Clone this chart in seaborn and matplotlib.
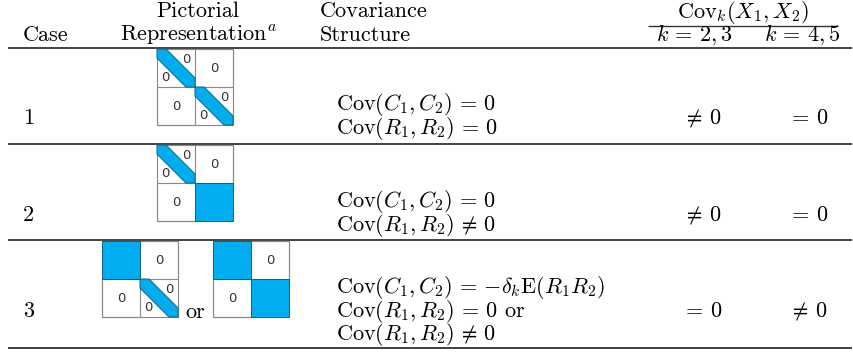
import matplotlib
matplotlib.use("Agg")
import matplotlib.pyplot as plt
from matplotlib.patches import Polygon, Rectangle
import seaborn as sns

# ---------------- data ----------------
cases = ["1", "2", "3"]
# quadrant layouts of the pictorial matrices (row-major: TL, TR, BL, BR)
matrices_case1 = [["diag", "zero", "zero", "diag"]]
matrices_case2 = [["diag", "zero", "zero", "full"]]
matrices_case3 = [["full", "zero", "zero", "diag"], ["full", "zero", "zero", "full"]]
cov_structure_case1 = [r"$\mathrm{Cov}(C_1, C_2) \,=\, 0$", r"$\mathrm{Cov}(R_1, R_2) \,=\, 0$"]
cov_structure_case2 = [r"$\mathrm{Cov}(C_1, C_2) \,=\, 0$", r"$\mathrm{Cov}(R_1, R_2) \,\neq\, 0$"]
cov_structure_case3 = [r"$\mathrm{Cov}(C_1, C_2) \,=\, {-}\delta_k\mathrm{E}(R_1 R_2)$",
                       r"$\mathrm{Cov}(R_1, R_2) \,=\, 0$ or",
                       r"$\mathrm{Cov}(R_1, R_2) \,\neq\, 0$"]
cov_k23 = [r"$\neq\, 0$", r"$\neq\, 0$", r"$=\, 0$"]
cov_k45 = [r"$=\, 0$", r"$=\, 0$", r"$\neq\, 0$"]
header_left = ["Case", "Pictorial", r"Representation$^a$", "Covariance", "Structure"]
header_right = [r"$\mathrm{Cov}_k(X_1, X_2)$", r"$k \,=\, 2, 3$", r"$k \,=\, 4, 5$"]

# ---------------- style ----------------
sns.set_theme(style="white")
plt.rcParams["font.family"] = ["cmr10", "DejaVu Serif"]
plt.rcParams["mathtext.fontset"] = "cm"
plt.rcParams["axes.unicode_minus"] = False
plt.rcParams["axes.formatter.use_mathtext"] = True

FS = 16
BLUE = "#00ADEF"
EDGE_BLUE = "#17607f"
GRAY = "#8a8a8a"
LIGHT = "#d8d8d8"

fig = plt.figure(figsize=(8.54, 3.52), dpi=100)
ax = fig.add_axes([0, 0, 1, 1])
ax.set_xlim(0, 854)
ax.set_ylim(352, 0)
ax.axis("off")

def txt(x, y, s, ha="left", size=FS):
    ax.text(x, y, s, ha=ha, va="baseline", fontsize=size, color="black")

# header
txt(23, 41, header_left[0])
txt(198, 17, header_left[1], ha="center")
txt(198, 41, header_left[2], ha="center")
txt(320, 17, header_left[3])
txt(320, 41, header_left[4])
txt(743, 18, header_right[0], ha="center")
txt(694, 41, header_right[1], ha="center")
txt(802, 41, header_right[2], ha="center")
ax.hlines(26, 648, 838, color="#333333", lw=1.0)

# rules
ax.hlines([48, 144, 240, 348], 8, 852, color="#333333", lw=1.3)

def quadrant(x0, y0, w, kind):
    if kind == "full":
        ax.add_patch(Rectangle((x0, y0), w, w, facecolor=BLUE, edgecolor=EDGE_BLUE, lw=0.7, zorder=3))
    elif kind == "zero":
        ax.add_patch(Rectangle((x0, y0), w, w, facecolor="white", edgecolor=GRAY, lw=0.8, zorder=2))
        ax.text(x0 + w / 2, y0 + w / 2, "0", ha="center", va="center",
                fontsize=9.5, family="DejaVu Sans", color="#333333", zorder=4)
    else:
        ax.add_patch(Rectangle((x0, y0), w, w, facecolor="white", edgecolor=LIGHT, lw=0.8, zorder=1))
        b = 0.24 * w
        pts = [(x0, y0), (x0 + b, y0), (x0 + w, y0 + w - b), (x0 + w, y0 + w),
               (x0 + w - b, y0 + w), (x0, y0 + b)]
        ax.add_patch(Polygon(pts, closed=True, facecolor=BLUE, edgecolor=EDGE_BLUE, lw=0.7, zorder=3))
        ax.text(x0 + 0.78 * w, y0 + 0.27 * w, "0", ha="center", va="center",
                fontsize=9.5, family="DejaVu Sans", color="#333333", zorder=4)
        ax.text(x0 + 0.22 * w, y0 + 0.75 * w, "0", ha="center", va="center",
                fontsize=9.5, family="DejaVu Sans", color="#333333", zorder=4)

def matrix(x0, y0, layout, w=38):
    offs = [(0, 0), (w, 0), (0, w), (w, w)]
    for (dx, dy), kind in zip(offs, layout):
        quadrant(x0 + dx, y0 + dy, w, kind)
    ax.add_patch(Rectangle((x0, y0), 2 * w, 2 * w, facecolor="none", edgecolor=GRAY, lw=0.8, zorder=2.5))

# matrices
matrix(157, 49, matrices_case1[0])
matrix(157, 145, matrices_case2[0])
matrix(102, 241, matrices_case3[0])
matrix(213, 241, matrices_case3[1])
txt(195, 318, "or", ha="center")

# rows
row_case_y = [124, 221, 317]
row_lines_y = [[110, 134], [207, 231], [293, 317, 340]]
structures = [cov_structure_case1, cov_structure_case2, cov_structure_case3]
for i, c in enumerate(cases):
    txt(23, row_case_y[i], c)
    for y, s in zip(row_lines_y[i], structures[i]):
        txt(336, y, s)
    txt(702, row_case_y[i], cov_k23[i], ha="center")
    txt(808, row_case_y[i], cov_k45[i], ha="center")

fig.savefig("out.png", dpi=100)
